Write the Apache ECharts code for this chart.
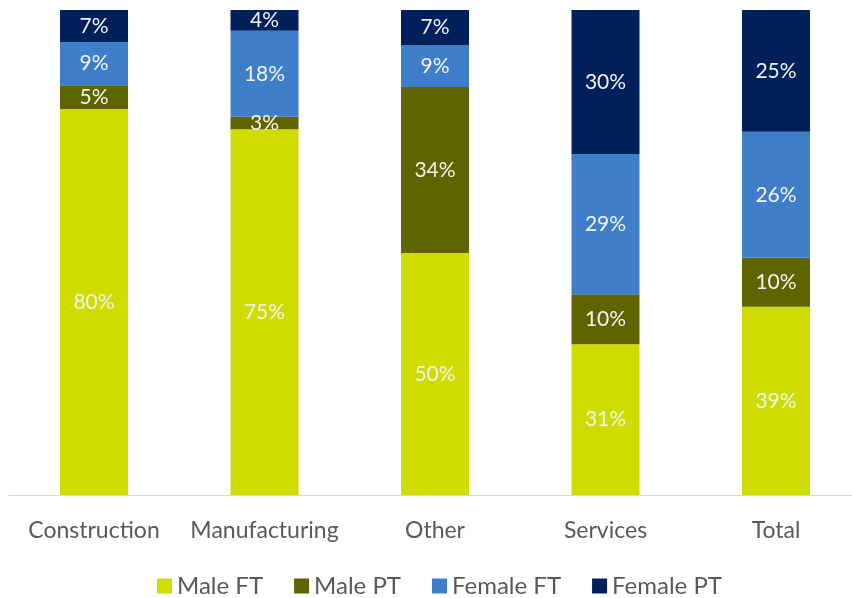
<!DOCTYPE html>
<html><head><meta charset="utf-8">
<script src="https://cdn.jsdelivr.net/npm/echarts@6/dist/echarts.min.js"></script>
<style>html,body{margin:0;padding:0;background:#fff}#c{width:852px;height:598px}</style>
</head><body><div id="c"></div>
<script>
const categories = ['Construction','Manufacturing','Other','Services','Total'];
const maleFT   = [79.6, 75.4, 49.9, 31.1, 38.8];
const malePT   = [4.9, 2.6, 34.2, 10.3, 10.1];
const femaleFT = [8.9, 17.7, 8.7, 28.9, 26.0];
const femalePT = [6.6, 4.3, 7.2, 29.7, 25.1];
const seriesNames = ['Male FT','Male PT','Female FT','Female PT'];
const colors = ['#cfdc00','#5f6400','#3f7fca','#00205b'];
const FONT = 'Lato';
const chart = echarts.init(document.getElementById('c'));
const mk = (name, data, color) => ({
  name, type:'bar', stack:'a', data, barWidth:68,
  itemStyle:{color},
  label:{show:true, position:'inside', color:'#f2f2f2', fontFamily:FONT, fontSize:21,
    formatter:p=>Math.round(p.value)+'%'}
});
chart.setOption({
  animation:false,
  color: colors,
  grid:{left:8.75, right:-9.25, top:10, bottom:103, outerBoundsMode:'none'},
  xAxis:{type:'category', data:categories,
    axisLine:{lineStyle:{color:'#d9d9d9', width:1}}, axisTick:{show:false},
    axisLabel:{color:'#595959', fontFamily:FONT, fontSize:23, margin:24, interval:0}},
  yAxis:{type:'value', min:0, max:100, show:false, splitLine:{show:false}},
  legend:{top:569, left:152, itemWidth:15, itemHeight:15, itemGap:31, icon:'rect',
    textStyle:{color:'#595959', fontFamily:FONT, fontSize:24}},
  series:[mk(seriesNames[0],maleFT,colors[0]), mk(seriesNames[1],malePT,colors[1]),
          mk(seriesNames[2],femaleFT,colors[2]), mk(seriesNames[3],femalePT,colors[3])]
});
</script></body></html>
